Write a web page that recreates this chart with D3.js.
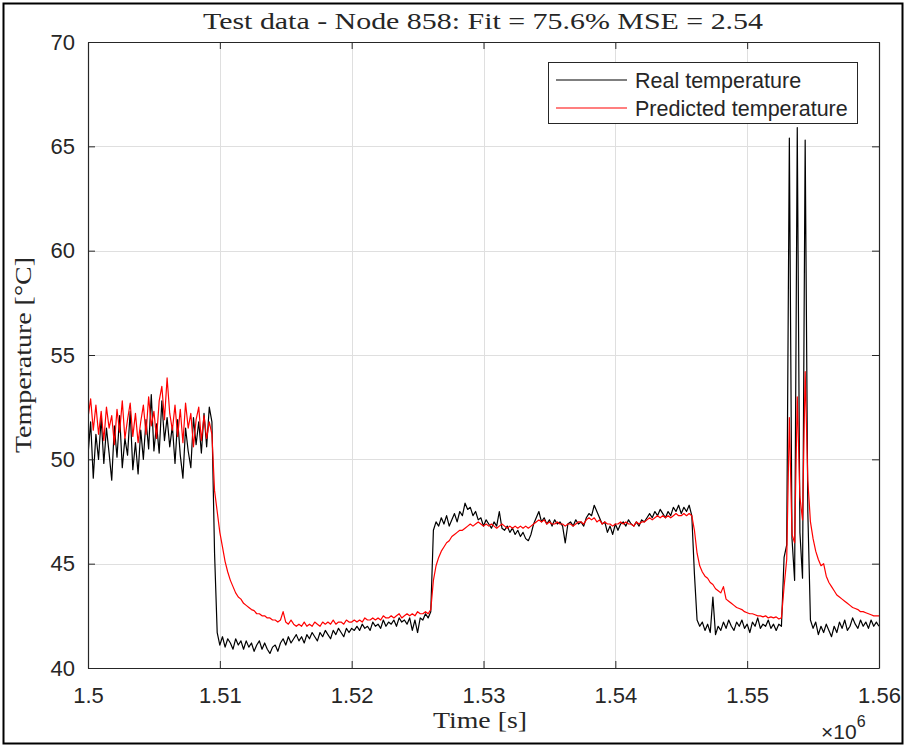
<!DOCTYPE html>
<html>
<head>
<meta charset="utf-8">
<script src="https://cdn.jsdelivr.net/npm/d3@7"></script>
<style>
  body { margin: 0; background: #fff; }
  text { font-family: "Liberation Sans", Arial, sans-serif; fill: #262626; }
  .serif { font-family: "Liberation Serif", "Times New Roman", serif; }
</style>
</head>
<body>
<script>
// sampling of the two series: one sample every 200 s starting at 1.5e6 s
const startTime = 1.5e6
const sampleStep = 200

// real temperature (black), 301 samples
const realTemp = [
  50.2, 51.8, 49.1, 51.2, 50.0, 52.0, 49.8, 51.5, 50.3, 49.0,
  51.6, 50.1, 52.1, 49.6, 51.0, 50.2, 52.3, 49.5, 50.8, 49.3,
  51.4, 50.0, 51.9, 50.5, 53.1, 50.4, 51.7, 50.3, 52.8, 50.9,
  52.0, 50.6, 51.6, 49.8, 51.9, 50.2, 49.1, 51.5, 50.4, 49.6,
  52.0, 50.7, 51.8, 50.3, 52.2, 50.6, 52.5, 51.8, 45.5, 41.7,
  41.1, 41.5, 41.0, 41.4, 41.2, 40.9, 41.4, 41.1, 41.3, 40.9,
  41.3, 41.0, 41.2, 40.8, 41.1, 41.3, 40.9, 41.2, 40.9, 40.7,
  41.0, 41.1, 40.8, 41.2, 41.4, 41.1, 41.5, 41.2, 41.4, 41.6,
  41.3, 41.5, 41.2, 41.6, 41.4, 41.7, 41.5, 41.3, 41.7, 41.5,
  41.8, 41.6, 41.4, 41.8, 41.6, 41.9, 41.7, 41.5, 41.9, 41.7,
  41.9, 41.8, 42.0, 41.8, 42.1, 41.9, 42.0, 41.8, 42.2, 42.0,
  42.1, 41.9, 42.3, 42.0, 42.2, 42.1, 42.3, 42.0, 42.4, 42.2,
  42.3, 42.1, 42.4, 41.8, 42.3, 41.7, 42.4, 42.3, 42.6, 42.4,
  42.7, 46.6, 47.0, 46.8, 47.2, 46.9, 47.3, 46.8, 47.1, 47.4,
  47.0, 47.5, 47.3, 47.9, 47.6, 47.7, 47.3, 47.5, 47.1, 47.2,
  46.8, 47.1, 46.9, 46.7, 47.0, 46.8, 47.5, 46.7, 46.6, 46.8,
  46.5, 46.7, 46.4, 46.6, 46.3, 46.5, 46.2, 46.1, 46.4, 46.9,
  47.2, 47.5, 47.0, 47.2, 46.9, 47.1, 46.8, 47.1, 46.9, 47.0,
  46.8, 46.0, 46.9, 47.0, 46.8, 47.1, 46.9, 47.0, 46.8, 47.2,
  47.4, 47.3, 47.8, 47.5, 47.2, 46.9, 47.0, 46.5, 46.8, 46.4,
  46.9, 46.6, 46.9, 47.0, 46.8, 47.1, 46.9, 46.8, 47.0, 46.8,
  47.1, 47.0, 47.2, 47.4, 47.2, 47.5, 47.3, 47.6, 47.4, 47.2,
  47.5, 47.3, 47.7, 47.5, 47.8, 47.4, 47.7, 47.5, 47.8, 47.3,
  44.5, 42.3, 42.0, 42.2, 41.8, 42.1, 41.7, 43.4, 41.6, 42.0,
  41.8, 42.2, 41.9, 42.3, 42.0, 41.8, 42.2, 42.0, 42.3, 41.9,
  42.1, 41.7, 42.2, 42.0, 42.4, 41.9, 42.1, 42.0, 42.3, 41.9,
  42.1, 41.8, 42.1, 42.0, 45.3, 45.9, 65.4, 46.2, 44.2, 65.9,
  46.5, 44.3, 65.3, 47.5, 42.3, 41.9, 42.2, 41.6, 42.0, 41.7,
  42.1, 41.8, 41.5, 42.0, 41.7, 42.2, 41.9, 42.3, 41.8, 42.0,
  42.4, 42.1, 41.9, 42.3, 42.0, 42.2, 41.9, 42.3, 42.0, 42.2,
  42.0
]

// predicted temperature (red), 301 samples
const predictedTemp = [
  52.0, 52.9, 51.4, 52.6, 51.2, 52.3, 50.9, 52.5, 51.5, 52.1,
  50.7, 52.4, 51.3, 52.8, 51.0, 51.9, 52.7, 51.1, 52.2, 50.8,
  51.8, 52.6, 51.2, 53.0, 51.6, 52.3, 51.0, 52.8, 53.5, 51.9,
  53.9, 52.2, 51.4, 52.6, 51.1, 52.4, 50.8, 52.7, 51.5, 52.2,
  50.6, 51.9, 52.5, 50.9, 52.1, 51.0, 51.8, 51.2, 48.5, 47.5,
  46.5, 45.8, 45.1, 44.6, 44.2, 43.9, 43.6, 43.4, 43.3, 43.1,
  43.0, 42.9, 42.8, 42.75, 42.6, 42.6, 42.5, 42.5, 42.4, 42.4,
  42.3, 42.3, 42.2, 42.3, 42.7, 42.2, 42.1, 42.3, 42.1, 42.0,
  42.1, 42.0, 42.2, 42.0, 42.1, 42.0, 42.2, 42.1, 42.0, 42.2,
  42.1, 42.2, 42.1, 42.3, 42.1, 42.2, 42.2, 42.1, 42.3, 42.2,
  42.2, 42.3, 42.2, 42.3, 42.2, 42.4, 42.3, 42.3, 42.4, 42.3,
  42.4, 42.3, 42.5, 42.4, 42.4, 42.5, 42.4, 42.5, 42.6, 42.4,
  42.5, 42.6, 42.5, 42.6, 42.5, 42.7, 42.6, 42.6, 42.7, 42.6,
  42.8, 44.2, 44.9, 45.3, 45.6, 45.8, 46.0, 46.1, 46.3, 46.4,
  46.5, 46.6, 46.6, 46.7, 46.8, 46.9, 46.8, 46.9, 47.0, 46.9,
  46.8, 46.9, 46.8, 46.9, 46.8, 46.7, 46.8, 46.9, 46.8, 46.7,
  46.8, 46.7, 46.8, 46.7, 46.8, 46.7, 46.8, 46.7, 46.8, 46.9,
  47.0, 47.1, 47.0, 47.1, 46.9, 47.0, 46.9, 46.9, 47.0, 46.9,
  46.9, 46.8, 46.9, 46.9, 46.8, 46.9, 47.0, 47.0, 46.9, 47.1,
  47.2, 47.1, 47.2, 47.0, 47.1, 46.9, 47.0, 46.9, 46.9, 46.8,
  46.9, 46.9, 47.0, 46.9, 47.0, 46.9, 46.9, 46.8, 47.0, 46.9,
  47.0, 47.0, 47.1, 47.2, 47.1, 47.2, 47.3, 47.2, 47.3, 47.2,
  47.3, 47.2, 47.3, 47.4, 47.3, 47.3, 47.4, 47.3, 47.4, 47.3,
  46.6, 45.5, 44.9, 44.6, 44.4, 44.3, 44.1, 44.0, 43.8, 43.7,
  43.6, 43.9, 43.3, 43.2, 43.1, 43.0, 42.9, 42.85, 42.8, 42.7,
  42.65, 42.6, 42.6, 42.55, 42.5, 42.5, 42.45, 42.5, 42.4, 42.45,
  42.4, 42.45, 42.35, 42.4, 43.9, 45.2, 52.0, 46.4, 46.0, 53.0,
  48.2, 47.1, 54.2, 49.0, 47.0, 46.2, 45.6, 45.2, 44.9, 45.0,
  44.4, 44.1, 43.9, 43.7, 43.5, 43.4, 43.3, 43.2, 43.1, 43.0,
  42.9, 42.85, 42.8, 42.7, 42.7, 42.65, 42.6, 42.55, 42.5, 42.5,
  42.5
]

const xTicks = [1.5e6, 1.51e6, 1.52e6, 1.53e6, 1.54e6, 1.55e6, 1.56e6]
const xTickLabels = ['1.5', '1.51', '1.52', '1.53', '1.54', '1.55', '1.56']
const yTicks = [40, 45, 50, 55, 60, 65, 70]
const legendLabels = ['Real temperature', 'Predicted temperature']
const seriesColors = ['#000000', '#ff0000']

const W = 906, H = 746
const plot = { left: 88, right: 879, top: 42, bottom: 668 }

let svg = d3.select('body').append('svg')
    .attr('width', W)
    .attr('height', H)

svg.append('rect')
    .attr('width', W).attr('height', H)
    .attr('fill', '#fff')

// figure frame
svg.append('rect')
    .attr('x', 3.5).attr('y', 3.5)
    .attr('width', W - 7).attr('height', H - 6)
    .attr('fill', 'none')
    .attr('stroke', '#000')
    .attr('stroke-width', 2)

let xScale = d3.scaleLinear()
    .domain([1.5e6, 1.56e6])
    .range([plot.left, plot.right])

let yScale = d3.scaleLinear()
    .domain([40, 70])
    .range([plot.bottom, plot.top])

// grid
let grid = svg.append('g').attr('stroke', '#dfdfdf').attr('stroke-width', 1)
grid.selectAll('.gx').data(xTicks.slice(1, -1)).enter().append('line')
    .attr('x1', d => Math.round(xScale(d)) + 0.5).attr('x2', d => Math.round(xScale(d)) + 0.5)
    .attr('y1', plot.top).attr('y2', plot.bottom)
grid.selectAll('.gy').data(yTicks.slice(1, -1)).enter().append('line')
    .attr('y1', d => Math.round(yScale(d)) + 0.5).attr('y2', d => Math.round(yScale(d)) + 0.5)
    .attr('x1', plot.left).attr('x2', plot.right)

// series
let idx = d3.range(realTemp.length)
let line = d3.line()
    .x(i => xScale(startTime + i * sampleStep))

svg.append('clipPath').attr('id', 'clip').append('rect')
    .attr('x', plot.left).attr('y', plot.top)
    .attr('width', plot.right - plot.left).attr('height', plot.bottom - plot.top)

;[realTemp, predictedTemp].forEach((vals, k) => {
    svg.append('path')
        .datum(idx)
        .attr('clip-path', 'url(#clip)')
        .attr('fill', 'none')
        .attr('stroke', seriesColors[k])
        .attr('stroke-width', 1.2)
        .attr('stroke-linejoin', 'round')
        .attr('d', line.y(i => yScale(vals[i])))
})

// axes (box with ticks on all sides, ticks pointing inward)
let fmtX = d => xTickLabels[xTicks.indexOf(d)]

let axB = svg.append('g')
    .attr('transform', `translate(0,${plot.bottom})`)
    .call(d3.axisBottom(xScale).tickValues(xTicks).tickFormat(fmtX).tickSizeInner(-7).tickSizeOuter(0).tickPadding(19))
let axT = svg.append('g')
    .attr('transform', `translate(0,${plot.top})`)
    .call(d3.axisTop(xScale).tickValues(xTicks).tickFormat('').tickSizeInner(-7).tickSizeOuter(0))
let axL = svg.append('g')
    .attr('transform', `translate(${plot.left},0)`)
    .call(d3.axisLeft(yScale).tickValues(yTicks).tickSizeInner(-7).tickSizeOuter(0).tickPadding(13))
let axR = svg.append('g')
    .attr('transform', `translate(${plot.right},0)`)
    .call(d3.axisRight(yScale).tickValues(yTicks).tickFormat('').tickSizeInner(-7).tickSizeOuter(0))

;[axB, axT, axL, axR].forEach(a => {
    a.select('.domain').attr('stroke', '#262626').attr('stroke-width', 1.2)
    a.selectAll('.tick line').attr('stroke', '#262626').attr('stroke-width', 1)
    a.selectAll('.tick text')
        .style('font-family', '"Liberation Sans", Arial, sans-serif')
        .style('font-size', '22px')
        .attr('fill', '#262626')
})
axB.selectAll('.tick text').attr('dy', '0.71em')

// exponent label
let ex = svg.append('text')
    .attr('x', 821).attr('y', 739)
    .style('font-size', '21px')
ex.append('tspan').text('\u00d710')
ex.append('tspan').attr('dy', -12).style('font-size', '16px').text('6')

// title and axis labels (LaTeX-like serif)
svg.append('text')
    .attr('class', 'serif')
    .attr('x', 483).attr('y', 29)
    .attr('text-anchor', 'middle')
    .attr('textLength', 560)
    .attr('lengthAdjust', 'spacingAndGlyphs')
    .style('font-size', '23px')
    .text('Test data - Node 858: Fit = 75.6% MSE = 2.54')

svg.append('text')
    .attr('class', 'serif')
    .attr('x', 480).attr('y', 728)
    .attr('text-anchor', 'middle')
    .attr('textLength', 94)
    .attr('lengthAdjust', 'spacingAndGlyphs')
    .style('font-size', '23px')
    .text('Time [s]')

svg.append('text')
    .attr('class', 'serif')
    .attr('transform', 'translate(31,355) rotate(-90)')
    .attr('text-anchor', 'middle')
    .attr('textLength', 196)
    .attr('lengthAdjust', 'spacingAndGlyphs')
    .style('font-size', '23px')
    .text('Temperature [\u00b0C]')

// legend
let lg = svg.append('g')
lg.append('rect')
    .attr('x', 548.5).attr('y', 62.5)
    .attr('width', 309).attr('height', 61)
    .attr('fill', '#fff')
    .attr('stroke', '#262626')
    .attr('stroke-width', 1)
legendLabels.forEach((lab, k) => {
    let yy = 80 + k * 28
    lg.append('line')
        .attr('x1', 556).attr('x2', 627)
        .attr('y1', yy).attr('y2', yy)
        .attr('stroke', seriesColors[k])
        .attr('stroke-width', 1.2)
    lg.append('text')
        .attr('x', 635).attr('y', yy + 7.5)
        .style('font-size', '21.5px')
        .text(lab)
})
</script>
</body>
</html>
